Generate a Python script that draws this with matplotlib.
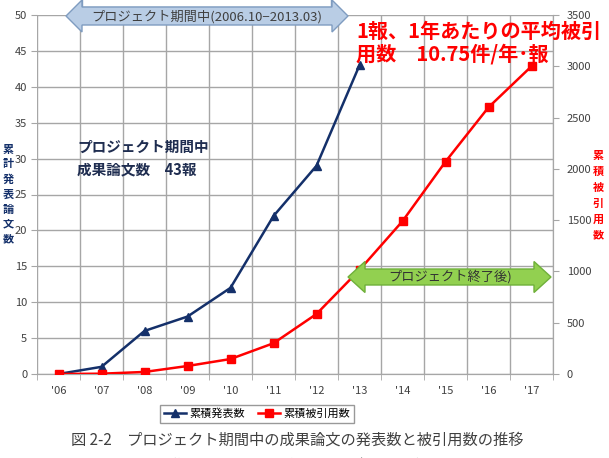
import matplotlib.pyplot as plt
from matplotlib.patches import Polygon, Rectangle
from matplotlib.lines import Line2D

plt.rcParams['font.family'] = ['Noto Sans CJK JP', 'DejaVu Sans']

# data
years = ["'06", "'07", "'08", "'09", "'10", "'11", "'12", "'13", "'14", "'15", "'16", "'17"]
papers = [0, 1, 6, 8, 12, 22, 29, 43]
citations = [0, 3, 20, 78, 146, 300, 585, 1015, 1490, 2070, 2600, 3000]

NAVY = "#14306a"
RED = "#ff0000"
GRID = "#a6a6a6"

W, H = 609, 458
fig = plt.figure(figsize=(W / 100, H / 100), dpi=100)


def fx(x):
    return x / W


def fy(y):
    return 1 - y / H


ax = fig.add_axes([fx(37), fy(374), (553 - 37) / W, (374 - 15) / H])
ax2 = ax.twinx()

ax.plot(range(len(papers)), papers, color=NAVY, lw=1.8, marker="^", ms=6,
        label="累積発表数", zorder=3)
ax2.plot(range(len(citations)), citations, color=RED, lw=1.8, marker="s", ms=5.5,
         label="累積被引用数", zorder=3)

ax.set_xlim(-0.5, len(years) - 0.5)
ax.set_ylim(0, 50)
ax2.set_ylim(0, 3500)
ax.set_yticks(range(0, 51, 5))
ax2.set_yticks(range(0, 3501, 500))
ax.set_xticks(range(len(years)))
ax.set_xticklabels(years)
ax.set_xticks([i - 0.5 for i in range(len(years) + 1)], minor=True)

ax.set_axisbelow(True)
ax.grid(axis="y", color=GRID, lw=1)
ax.grid(axis="x", which="minor", color=GRID, lw=1)
ax.tick_params(axis="x", which="major", length=0, labelsize=8, colors="#404040", pad=9)
ax.tick_params(axis="x", which="minor", length=4, color=GRID)
ax.tick_params(axis="y", length=4, color=GRID, labelsize=8, labelcolor="#404040", pad=3)
ax2.tick_params(axis="y", length=4, color=GRID, labelsize=8, labelcolor="#404040", pad=6)

for a in (ax, ax2):
    for s in ("top", "left"):
        a.spines[s].set_visible(False)
    a.spines["bottom"].set_color(GRID)
    a.spines["right"].set_color(GRID)

# vertical axis titles
fig.text(fx(8), fy(194), "\n".join("累計発表論文数"), color=NAVY, fontsize=8,
         fontweight="bold", ha="center", va="center", linespacing=1.2)
fig.text(fx(598), fy(195), "\n".join("累積被引用数"), color=RED, fontsize=8,
         fontweight="bold", ha="center", va="center", linespacing=1.3)

# annotations
fig.text(fx(77), fy(158), "プロジェクト期間中\n成果論文数　43報", color="#1f2d50",
         fontsize=10.5, fontweight="bold", ha="left", va="center", linespacing=1.5)
fig.text(fx(356), fy(31), "1報、1年あたりの平均被引", color=RED,
         fontsize=14.5, fontweight="bold", ha="left", va="center")
fig.text(fx(356), fy(54), "用数　10.75件/年･報", color=RED,
         fontsize=14.5, fontweight="bold", ha="left", va="center")


def double_arrow(x0, x1, yc, head_w, head_h, body_h, fc, ec):
    pts = [(x0, yc), (x0 + head_w, yc - head_h), (x0 + head_w, yc - body_h),
           (x1 - head_w, yc - body_h), (x1 - head_w, yc - head_h), (x1, yc),
           (x1 - head_w, yc + head_h), (x1 - head_w, yc + body_h),
           (x0 + head_w, yc + body_h), (x0 + head_w, yc + head_h)]
    fig.patches.append(Polygon([(fx(x), fy(y)) for x, y in pts], closed=True,
                               transform=fig.transFigure, facecolor=fc,
                               edgecolor=ec, lw=1))


# white box peeking above the top arrow
fig.patches.append(Rectangle((fx(82), fy(7)), (331 - 82) / W, 12 / H,
                             transform=fig.transFigure, facecolor="white",
                             edgecolor="#7f9cc0", lw=1))
double_arrow(66, 348, 16, 16, 16, 9, "#b9cde5", "#7f9cc0")
fig.text(fx(207), fy(17), "プロジェクト期間中(2006.10−2013.03)", color="#404040",
         fontsize=9.5, ha="center", va="center")

double_arrow(348, 551, 277, 17, 15.5, 8, "#92d050", "#6fb03a")
fig.text(fx(450), fy(277), "プロジェクト終了後)", color="#333333",
         fontsize=9.5, ha="center", va="center")

# legend
handles = [Line2D([], [], color=NAVY, lw=1.8, marker="^", ms=6),
           Line2D([], [], color=RED, lw=1.8, marker="s", ms=5.5)]
fig.legend(handles, ["累積発表数", "累積被引用数"], loc="center",
           bbox_to_anchor=(fx(257), fy(414)), ncol=2, fontsize=8,
           frameon=True, fancybox=False, edgecolor="#808080",
           handlelength=2.0, handletextpad=0.3, columnspacing=1.2,
           borderpad=0.35)

# caption
fig.text(fx(297), fy(440), "図 2-2　プロジェクト期間中の成果論文の発表数と被引用数の推移",
         color="#404040", fontsize=11, ha="center", va="center")
fig.text(fx(296), fy(464), "(検索DB:Scopus　　検索日:2018年11月1日)",
         color="#404040", fontsize=9, ha="center", va="center")

fig.savefig("out.png", dpi=100)
